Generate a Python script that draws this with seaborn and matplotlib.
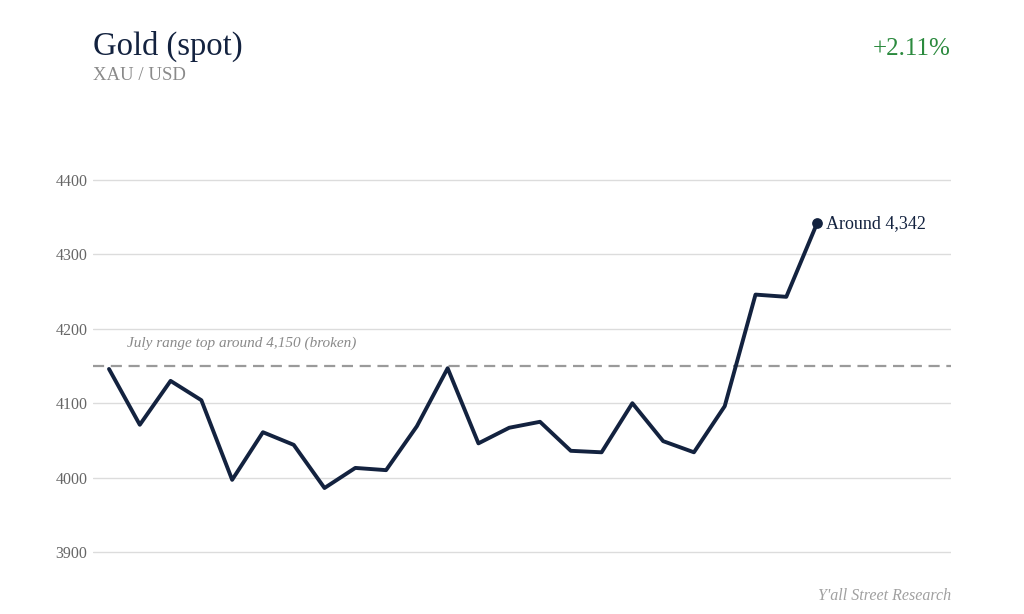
import matplotlib
matplotlib.use("Agg")
import matplotlib.pyplot as plt
import seaborn as sns
import pandas as pd

# gold spot closes
session = list(range(24))
price = [4146, 4071, 4130, 4104, 3997, 4061, 4044, 3986, 4013, 4010,
         4069, 4147, 4046, 4067, 4075, 4036, 4034, 4100, 4049, 4034,
         4096, 4246, 4243, 4342]
range_top = 4150
y_ticks = [3900, 4000, 4100, 4200, 4300, 4400]

NAVY = "#13223f"
GREY = "#8a8a8a"
GREEN = "#2b8a3e"

sns.set_theme(style="white")
plt.rcParams["font.family"] = ["Liberation Serif", "DejaVu Serif"]

df = pd.DataFrame({"session": session, "price": price})

fig = plt.figure(figsize=(10.24, 6.14), dpi=100)
ax = fig.add_axes([93 / 1024, 0.0889, (951 - 93) / 1024, 0.7189 - 0.0889])

sns.lineplot(data=df, x="session", y="price", ax=ax, color=NAVY, linewidth=2.8)
ax.axhline(range_top, color="#9a9a9a", linestyle=(0, (5, 3)), linewidth=1.6, zorder=1)
ax.scatter([session[-1]], [price[-1]], color=NAVY, s=45, zorder=5)

ax.set_xlim(-0.52, 27.35)
ax.set_ylim(3890, 4410)
ax.set_yticks(y_ticks)
ax.set_xticks([])
ax.yaxis.grid(True, color="#dcdcdc", linewidth=1)
ax.tick_params(axis="y", length=0, pad=4, labelsize=11.5, labelcolor="#666666")
for s in ax.spines.values():
    s.set_visible(False)
ax.set_xlabel("")
ax.set_ylabel("")

ax.text(0.6, range_top + 22, "July range top around 4,150 (broken)",
        fontsize=11, style="italic", color=GREY, va="bottom")
ax.text(session[-1] + 0.3, price[-1], "Around 4,342",
        fontsize=13, color=NAVY, va="center")

fig.text(93 / 1024, 1 - 55 / 614, "Gold (spot)", fontsize=23.5, color=NAVY)
fig.text(93 / 1024, 1 - 80 / 614, "XAU / USD", fontsize=13.5, color=GREY)
fig.text(951 / 1024, 1 - 55 / 614, "+2.11%", fontsize=18, color=GREEN, ha="right")
fig.text(951 / 1024, 1 - 600 / 614, "Y'all Street Research", fontsize=11.5,
         style="italic", color="#a0a0a0", ha="right")

fig.savefig("out.png", dpi=100, facecolor="white")
